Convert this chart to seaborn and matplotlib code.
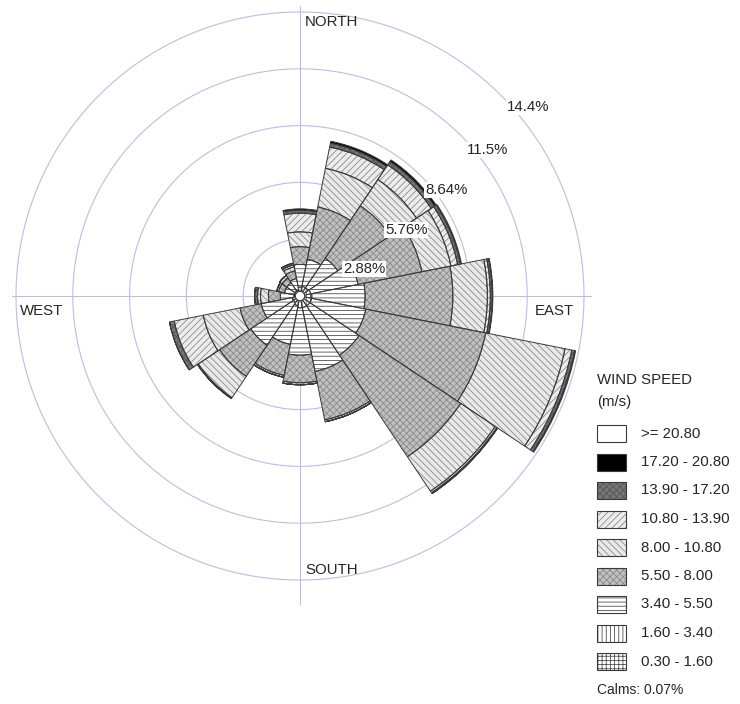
import numpy as np
import matplotlib
matplotlib.use("Agg")
import matplotlib.pyplot as plt
from matplotlib.patches import Rectangle
import seaborn as sns

# 16 compass sectors, clockwise from north
directions = ["N", "NNE", "NE", "ENE", "E", "ESE", "SE", "SSE",
              "S", "SSW", "SW", "WSW", "W", "WNW", "NW", "NNW"]

speed_labels = ["0.30 - 1.60", "1.60 - 3.40", "3.40 - 5.50", "5.50 - 8.00",
                "8.00 - 10.80", "10.80 - 13.90", "13.90 - 17.20",
                "17.20 - 20.80", ">= 20.80"]

# frequency (%) of each wind-speed class, per direction
freq_030_160 = [0.15, 0.15, 0.15, 0.15, 0.15, 0.15, 0.15, 0.15,
                0.15, 0.15, 0.10, 0.10, 0.10, 0.10, 0.10, 0.10]
freq_160_340 = [0.30, 0.35, 0.35, 0.40, 0.45, 0.45, 0.45, 0.45,
                0.45, 0.35, 0.30, 0.30, 0.20, 0.20, 0.20, 0.20]
freq_340_550 = [1.15, 1.40, 1.80, 2.45, 2.70, 2.80, 3.00, 3.30,
                2.40, 2.00, 2.60, 1.60, 0.70, 0.50, 0.50, 0.60]
freq_550_800 = [0.90, 2.70, 3.20, 3.30, 4.45, 6.20, 6.20, 2.50,
                1.40, 1.60, 1.90, 1.10, 0.60, 0.30, 0.30, 0.40]
freq_800_1080 = [0.75, 2.00, 1.60, 1.50, 1.75, 4.10, 2.10, 0.10,
                 0.10, 0.10, 1.30, 1.90, 0.40, 0.10, 0.15, 0.20]
freq_1080_1390 = [0.95, 1.10, 0.90, 0.35, 0.15, 0.35, 0.10, 0.00,
                  0.00, 0.00, 0.05, 1.50, 0.15, 0.00, 0.00, 0.10]
freq_1390_1720 = [0.15, 0.20, 0.20, 0.15, 0.10, 0.15, 0.05, 0.00,
                  0.00, 0.00, 0.00, 0.25, 0.15, 0.00, 0.00, 0.10]
freq_1720_2080 = [0.07, 0.10, 0.10, 0.05, 0.03, 0.05, 0.00, 0.00,
                  0.00, 0.00, 0.00, 0.00, 0.00, 0.00, 0.00, 0.00]
freq_2080_up = [0.0] * 16

ring_values = [2.88, 5.76, 8.64, 11.52, 14.4]
ring_labels = ["2.88%", "5.76%", "8.64%", "11.5%", "14.4%"]
calms_text = "Calms: 0.07%"

# fill colour, hatch pattern and hatch colour per speed class
styles = [
    ("#ffffff", "++++", "#505050"),
    ("#ffffff", "||||", "#505050"),
    ("#ffffff", "----", "#505050"),
    ("#c0c0c0", "xxxxx", "#8a8a8a"),
    ("#e9e9e9", "\\\\\\\\\\", "#8c8c8c"),
    ("#ececec", "/////", "#8c8c8c"),
    ("#767676", "xxxxx", "#555555"),
    ("#000000", "", "#000000"),
    ("#ffffff", "", "#ffffff"),
]

sns.set_theme(style="white")
plt.rcParams["font.family"] = ["Liberation Sans", "DejaVu Sans"]
plt.rcParams["hatch.linewidth"] = 0.6

W, H = 740, 704
cx, cy, rpx = 300, 296, 284  # centre and pixel radius of the outer ring
fig = plt.figure(figsize=(W / 100, H / 100), dpi=100)
ax = fig.add_axes([(cx - rpx) / W, (H - cy - rpx) / H, 2 * rpx / W, 2 * rpx / H],
                  projection="polar")
ax.set_theta_zero_location("N")
ax.set_theta_direction(-1)
ax.grid(False)
ax.set_xticks([])
ax.set_yticks([])
ax.spines["polar"].set_visible(False)
ax.patch.set_alpha(0)

theta = np.deg2rad(np.arange(len(directions)) * 22.5)
series = [freq_030_160, freq_160_340, freq_340_550, freq_550_800, freq_800_1080,
          freq_1080_1390, freq_1390_1720, freq_1720_2080, freq_2080_up]

# rings and cross hairs
tt = np.linspace(0, 2 * np.pi, 721)
ring_col = "#bdbde2"
for r in ring_values:
    ax.plot(tt, np.full_like(tt, r), color=ring_col, lw=0.8, zorder=0.5, clip_on=False)
# arms: north, east, south, west
arm_len = {0.0: 14.7, np.pi / 2: 14.75, np.pi: 15.6, 3 * np.pi / 2: 14.6}
for a, L in arm_len.items():
    ax.plot([a, a], [0, L], color=ring_col, lw=0.8, zorder=0.6, clip_on=False)

# stacked sectors
bottom = np.zeros(len(directions))
for vals, (face, hatch, hcol) in zip(series, styles):
    vals = np.asarray(vals, dtype=float)
    if vals.sum() == 0:
        continue
    sns.barplot(x=theta, y=vals, bottom=bottom, native_scale=True, width=1.0,
                orient="x", color=face, saturation=1, edgecolor=hcol, linewidth=0,
                hatch=hatch, errorbar=None, ax=ax, zorder=2)
    sns.barplot(x=theta, y=vals, bottom=bottom, native_scale=True, width=1.0,
                orient="x", fill=False, color="#3a3a3a", linewidth=0.7,
                errorbar=None, ax=ax, zorder=3)
    bottom += vals

ax.set_ylim(0, 14.4)
ax.set_xlabel("")
ax.set_ylabel("")

# calm circle in the middle
ax.fill(tt, np.full_like(tt, 0.23), facecolor="white", edgecolor="#3a3a3a",
        lw=0.7, zorder=6)

TXT = "#262626"
FS = 10.8

# ring labels
label_pos = [(343, 269), (385, 230), (425, 190), (467, 150), (507, 107)]
for (px, py), txt in zip(label_pos, ring_labels):
    fig.text(px / W, 1 - py / H, txt, ha="left", va="center", fontsize=FS,
             color=TXT, bbox=dict(facecolor="white", edgecolor="none", pad=0.5),
             zorder=10)

# compass names
for txt, px, py in [("NORTH", 305, 22), ("SOUTH", 305, 570),
                    ("WEST", 20, 311), ("EAST", 535, 311)]:
    fig.text(px / W, 1 - py / H, txt, ha="left", va="center", fontsize=FS,
             color=TXT)

# legend
fig.text(597 / W, 1 - 380 / H, "WIND SPEED", ha="left", va="center",
         fontsize=FS, color=TXT)
fig.text(597 / W, 1 - 402 / H, "(m/s)", ha="left", va="center",
         fontsize=FS, color=TXT)
for i, (lab, (face, hatch, hcol)) in enumerate(zip(speed_labels[::-1], styles[::-1])):
    top = 425 + i * 28.5
    fig.add_artist(Rectangle((597 / W, 1 - (top + 17) / H), 29 / W, 17 / H,
                             transform=fig.transFigure, facecolor=face,
                             edgecolor=hcol if hatch else "#3a3a3a",
                             hatch=hatch or None, lw=0))
    fig.add_artist(Rectangle((597 / W, 1 - (top + 17) / H), 29 / W, 17 / H,
                             transform=fig.transFigure, fill=False,
                             edgecolor="#3a3a3a", lw=0.8))
    fig.text(641 / W, 1 - (top + 8.5) / H, lab, ha="left", va="center",
             fontsize=FS, color=TXT)
fig.text(597 / W, 1 - 690 / H, calms_text, ha="left", va="center",
         fontsize=10, color=TXT)

fig.savefig("out.png", dpi=100, facecolor="white")
